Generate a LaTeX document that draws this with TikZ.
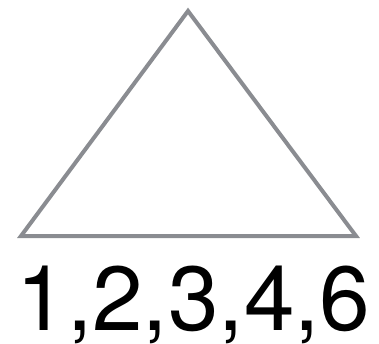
\documentclass[tikz,border=0pt]{standalone}
\usepackage{fontspec}
\setmainfont{TeX Gyre Heros}
\usepackage{tikz}
\definecolor{edgegray}{RGB}{138,140,145}
\tikzset{
    tri/.style={draw=edgegray, line width=4pt, line join=miter},
    digits/.style={inner sep=0pt, anchor=base, font=\fontsize{91}{91}\selectfont}
}

\begin{document}
\begin{tikzpicture}[x=1pt, y=1pt]
    \useasboundingbox (0,0) rectangle (379,343);
    % Dreieck
    \coordinate (A) at (21,107);
    \coordinate (B) at (356,107);
    \coordinate (C) at (188,332);
    \draw[tri] (A) -- (B) -- (C) -- cycle;
    % Zahlen darunter
    \node[digits] (nums) at (193.5,13) {1,2,3,4,6};
\end{tikzpicture}
\end{document}
